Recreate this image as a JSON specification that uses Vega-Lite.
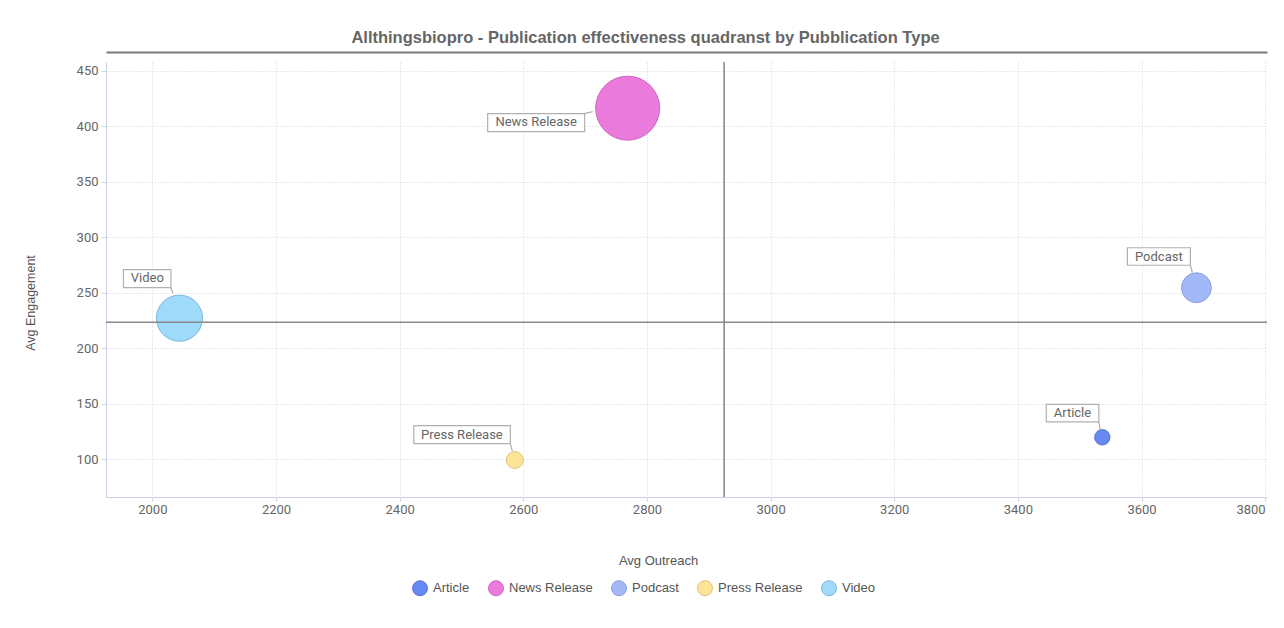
{
  "$schema": "https://vega.github.io/schema/vega-lite/v6.json",
  "width": 1161,
  "height": 435,
  "autosize": {"type": "none"},
  "padding": {"left": 106, "top": 62, "right": 17, "bottom": 131},
  "background": "white",
  "title": {
    "text": "Allthingsbiopro - Publication effectiveness quadranst by Pubblication Type",
    "font": "Liberation Sans",
    "fontSize": 16.5,
    "fontWeight": "bold",
    "color": "#666666",
    "anchor": "middle",
    "dx": -41,
    "offset": -7,
    "baseline": "alphabetic"
  },
  "data": {
    "values": [
      {"type": "Article", "outreach": 3536.6, "engagement": 120.0, "count": 2.3},
      {"type": "News Release", "outreach": 2768.8, "engagement": 416.5, "count": 40},
      {"type": "Podcast", "outreach": 3688.8, "engagement": 254.7, "count": 8.7},
      {"type": "Press Release", "outreach": 2586.3, "engagement": 99.5, "count": 2.8},
      {"type": "Video", "outreach": 2043.8, "engagement": 227.3, "count": 20.8}
    ]
  },
  "resolve": {"axis": {"x": "independent"}},
  "layer": [
    {
      "mark": {"type": "circle", "opacity": 0.92, "strokeWidth": 1},
      "encoding": {
        "x": {
          "field": "outreach", "type": "quantitative",
          "scale": {"domain": [1925, 3803], "nice": false, "zero": false},
          "axis": {
            "orient": "bottom",
            "values": [2000, 2200, 2400, 2600, 2800, 3000, 3200, 3400, 3600, 3800],
            "format": "d",
            "grid": true, "gridColor": "#d4d4d4", "gridDash": [1, 2], "gridWidth": 1,
            "domainColor": "#ccd1e6", "domainWidth": 1,
            "tickColor": "#d4d4d4", "tickSize": 4,
            "labelFont": "Roboto", "labelFontSize": 13, "labelColor": "#666666",
            "labelPadding": 2.5, "labelFlush": 5, "labelFlushOffset": 0,
            "title": "Avg Outreach", "titleFont": "Liberation Sans", "titleFontSize": 13,
            "titleFontWeight": "normal", "titleColor": "#555555",
            "titleX": 552, "titleY": 63, "titleAlign": "center", "titleBaseline": "middle"
          }
        },
        "y": {
          "field": "engagement", "type": "quantitative", "title": "Avg Engagement",
          "scale": {"domain": [66.2, 458.1], "nice": false, "zero": false},
          "axis": {
            "grid": true, "gridColor": "#d4d4d4", "gridDash": [1, 2], "gridWidth": 1,
            "domainColor": "#ccd1e6", "domainWidth": 1,
            "tickColor": "#d4d4d4", "tickSize": 5,
            "labelFont": "Roboto", "labelFontSize": 13, "labelColor": "#666666",
            "labelPadding": 3, "labelFlush": false,
            "title": "Avg Engagement", "titleFont": "Liberation Sans", "titleFontSize": 12.5,
            "titleFontWeight": "normal", "titleColor": "#555555",
            "titleX": -76, "titleY": 240.5, "titleAngle": 270, "titleAlign": "center", "titleBaseline": "middle"
          }
        },
        "size": {
          "field": "count", "type": "quantitative",
          "scale": {"type": "linear", "domain": [0, 40], "range": [0, 4096]},
          "legend": null
        },
        "fill": {
          "field": "type", "type": "nominal",
          "scale": {
            "domain": ["Article", "News Release", "Podcast", "Press Release", "Video"],
            "range": ["#5a7ff1", "#ea6fdb", "#9cb2f6", "#fde28f", "#98d7fb"]
          },
          "legend": {"title": null}
        },
        "stroke": {
          "field": "type", "type": "nominal",
          "scale": {
            "domain": ["Article", "News Release", "Podcast", "Press Release", "Video"],
            "range": ["#4668d6", "#c95abd", "#7f96dc", "#dcc06a", "#6fb4dc"]
          },
          "legend": {"title": null}
        }
      }
    },
    {
      "mark": {"type": "rule", "color": "#8a8a8a", "strokeWidth": 1.6},
      "encoding": {
        "x": {
          "aggregate": "mean", "field": "outreach", "type": "quantitative",
          "scale": {"domain": [1925, 3803], "nice": false, "zero": false},
          "axis": {
            "orient": "top", "offset": 10, "labels": false, "ticks": false, "grid": false,
            "domain": true, "domainColor": "#7a7a7a", "domainWidth": 2, "title": null
          }
        }
      }
    },
    {
      "mark": {"type": "rule", "color": "#8a8a8a", "strokeWidth": 1.6},
      "encoding": {
        "y": {
          "aggregate": "mean", "field": "engagement", "type": "quantitative", "title": "Avg Engagement",
          "scale": {"domain": [66.2, 458.1], "nice": false, "zero": false}
        }
      }
    },
    {
      "transform": [{"filter": "datum.type === 'Article'"}],
      "encoding": {
        "x": {"field": "outreach", "type": "quantitative", "scale": {"domain": [1925, 3803], "nice": false, "zero": false}, "axis": null},
        "x2": {"field": "outreach"},
        "y": {"field": "engagement", "type": "quantitative", "title": "Avg Engagement", "scale": {"domain": [66.2, 458.1], "nice": false, "zero": false}},
        "y2": {"field": "engagement"}
      },
      "layer": [
        {"mark": {"type": "rect", "fill": "#ffffff", "stroke": "#b0b0b0", "strokeWidth": 1.2, "xOffset": -56, "x2Offset": -3.5, "yOffset": -33, "y2Offset": -15.5}},
        {"mark": {"type": "rule", "color": "#b0b0b0", "strokeWidth": 1.2, "xOffset": -3.5, "x2Offset": -2, "yOffset": -15.5, "y2Offset": -7.5}},
        {"mark": {"type": "text", "font": "Roboto", "fontSize": 13, "color": "#666666", "align": "center", "baseline": "middle", "dx": -29.9, "dy": -24.3},
         "encoding": {"text": {"field": "type", "type": "nominal"}}}
      ]
    },
    {
      "transform": [{"filter": "datum.type === 'News Release'"}],
      "encoding": {
        "x": {"field": "outreach", "type": "quantitative", "scale": {"domain": [1925, 3803], "nice": false, "zero": false}, "axis": null},
        "x2": {"field": "outreach"},
        "y": {"field": "engagement", "type": "quantitative", "title": "Avg Engagement", "scale": {"domain": [66.2, 458.1], "nice": false, "zero": false}},
        "y2": {"field": "engagement"}
      },
      "layer": [
        {"mark": {"type": "rect", "fill": "#ffffff", "stroke": "#b0b0b0", "strokeWidth": 1.2, "xOffset": -140, "x2Offset": -43, "yOffset": 5.5, "y2Offset": 23.5}},
        {"mark": {"type": "rule", "color": "#b0b0b0", "strokeWidth": 1.2, "xOffset": -43, "x2Offset": -35, "yOffset": 5.5, "y2Offset": 3.5}},
        {"mark": {"type": "text", "font": "Roboto", "fontSize": 13, "color": "#666666", "align": "center", "baseline": "middle", "dx": -91.5, "dy": 14.3},
         "encoding": {"text": {"field": "type", "type": "nominal"}}}
      ]
    },
    {
      "transform": [{"filter": "datum.type === 'Podcast'"}],
      "encoding": {
        "x": {"field": "outreach", "type": "quantitative", "scale": {"domain": [1925, 3803], "nice": false, "zero": false}, "axis": null},
        "x2": {"field": "outreach"},
        "y": {"field": "engagement", "type": "quantitative", "title": "Avg Engagement", "scale": {"domain": [66.2, 458.1], "nice": false, "zero": false}},
        "y2": {"field": "engagement"}
      },
      "layer": [
        {"mark": {"type": "rect", "fill": "#ffffff", "stroke": "#b0b0b0", "strokeWidth": 1.2, "xOffset": -69, "x2Offset": -6, "yOffset": -40, "y2Offset": -22.5}},
        {"mark": {"type": "rule", "color": "#b0b0b0", "strokeWidth": 1.2, "xOffset": -6, "x2Offset": -4, "yOffset": -22.5, "y2Offset": -15}},
        {"mark": {"type": "text", "font": "Roboto", "fontSize": 13, "color": "#666666", "align": "center", "baseline": "middle", "dx": -37.6, "dy": -31.2},
         "encoding": {"text": {"field": "type", "type": "nominal"}}}
      ]
    },
    {
      "transform": [{"filter": "datum.type === 'Press Release'"}],
      "encoding": {
        "x": {"field": "outreach", "type": "quantitative", "scale": {"domain": [1925, 3803], "nice": false, "zero": false}, "axis": null},
        "x2": {"field": "outreach"},
        "y": {"field": "engagement", "type": "quantitative", "title": "Avg Engagement", "scale": {"domain": [66.2, 458.1], "nice": false, "zero": false}},
        "y2": {"field": "engagement"}
      },
      "layer": [
        {"mark": {"type": "rect", "fill": "#ffffff", "stroke": "#b0b0b0", "strokeWidth": 1.2, "xOffset": -101, "x2Offset": -4.5, "yOffset": -34.5, "y2Offset": -16.5}},
        {"mark": {"type": "rule", "color": "#b0b0b0", "strokeWidth": 1.2, "xOffset": -4.5, "x2Offset": -2.5, "yOffset": -16.5, "y2Offset": -9}},
        {"mark": {"type": "text", "font": "Roboto", "fontSize": 13, "color": "#666666", "align": "center", "baseline": "middle", "dx": -52.9, "dy": -25.4},
         "encoding": {"text": {"field": "type", "type": "nominal"}}}
      ]
    },
    {
      "transform": [{"filter": "datum.type === 'Video'"}],
      "encoding": {
        "x": {"field": "outreach", "type": "quantitative", "scale": {"domain": [1925, 3803], "nice": false, "zero": false}, "axis": null},
        "x2": {"field": "outreach"},
        "y": {"field": "engagement", "type": "quantitative", "title": "Avg Engagement", "scale": {"domain": [66.2, 458.1], "nice": false, "zero": false}},
        "y2": {"field": "engagement"}
      },
      "layer": [
        {"mark": {"type": "rect", "fill": "#ffffff", "stroke": "#b0b0b0", "strokeWidth": 1.2, "xOffset": -56, "x2Offset": -8.5, "yOffset": -48.5, "y2Offset": -30.5}},
        {"mark": {"type": "rule", "color": "#b0b0b0", "strokeWidth": 1.2, "xOffset": -8.5, "x2Offset": -6.5, "yOffset": -30.5, "y2Offset": -25}},
        {"mark": {"type": "text", "font": "Roboto", "fontSize": 13, "color": "#666666", "align": "center", "baseline": "middle", "dx": -32.2, "dy": -39.7},
         "encoding": {"text": {"field": "type", "type": "nominal"}}}
      ]
    }
  ],
  "config": {
    "view": {"stroke": null},
    "legend": {
      "orient": "none",
      "legendX": 306,
      "legendY": 518,
      "direction": "horizontal",
      "symbolType": "circle",
      "symbolSize": 225,
      "symbolStrokeWidth": 1,
      "labelFont": "Liberation Sans",
      "labelFontSize": 13,
      "labelColor": "#555555",
      "labelOffset": 5,
      "columnPadding": 16,
      "padding": 0
    }
  }
}
